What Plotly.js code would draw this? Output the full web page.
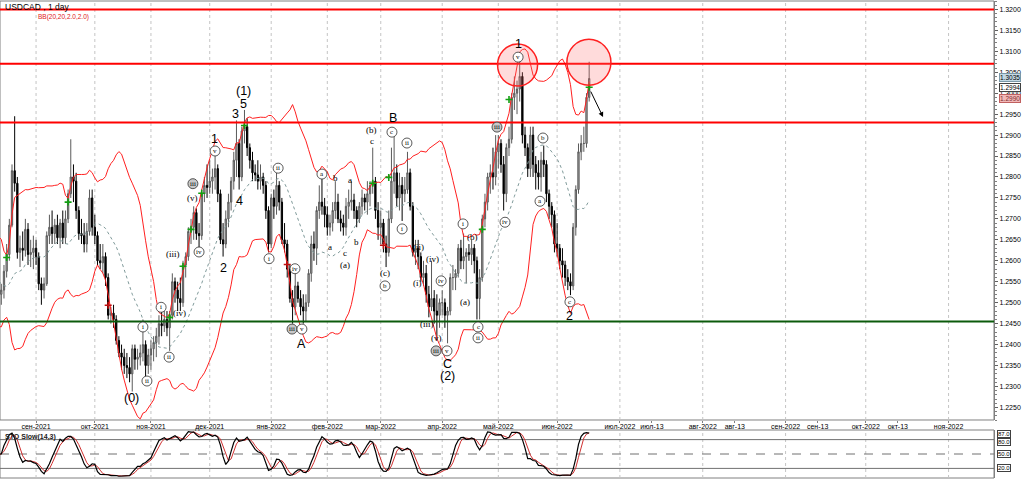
<!DOCTYPE html>
<html><head><meta charset="utf-8">
<script src="https://cdn.plot.ly/plotly-3.0.1.min.js"></script>
<style>html,body{margin:0;padding:0;background:#fff;}#chart{width:1024px;height:479px;}</style>
</head><body><div id="chart"></div>
<script>
// USDCAD daily bars. First 20 bars (16 Jul - 12 Aug 2021) are history before the visible window.
const warmup = 20;
const open = [
1.2590,1.2610,1.2690,1.2650,1.2560,1.2560,1.2560,1.2540,1.2590,1.2530,1.2450,1.2480,1.2530,1.2550,1.2560,1.2530,1.2540,1.2550,1.2530,1.2480,
1.2520,1.2530,1.2575,1.2615,1.2685,1.2815,1.2785,1.2620,1.2630,1.2625,1.2675,1.2615,1.2620,
1.2630,1.2610,1.2545,1.2530,1.2545,1.2660,1.2680,1.2665,1.2685,1.2655,1.2690,1.2655,1.2700,1.2760,1.2800,1.2790,1.2720,1.2665,1.2660,1.2640,1.2670,1.2750,
1.2680,1.2660,1.2600,1.2595,1.2610,1.2560,1.2470,1.2475,1.2460,1.2410,1.2380,1.2370,1.2350,1.2345,1.2330,1.2390,1.2365,1.2370,1.2380,1.2400,1.2350,
1.2375,1.2390,1.2405,1.2420,1.2450,1.2445,1.2460,1.2440,1.2470,1.2550,1.2530,1.2510,1.2500,1.2590,1.2610,1.2670,1.2680,1.2715,1.2665,1.2660,1.2760,1.2780,
1.2775,1.2790,1.2800,1.2820,1.2760,1.2650,1.2640,1.2700,1.2740,1.2790,1.2840,1.2880,1.2800,1.2910,1.2920,1.2870,1.2840,1.2810,1.2805,1.2790,1.2800,1.2780,1.2720,
1.2640,1.2750,1.2730,1.2780,1.2740,1.2650,1.2640,1.2580,1.2510,1.2490,1.2540,1.2510,1.2490,1.2480,1.2500,1.2570,1.2640,1.2630,1.2720,1.2740,1.2730,
1.2710,1.2680,1.2690,1.2720,1.2740,1.2700,1.2690,1.2680,1.2730,1.2740,1.2745,1.2720,1.2700,1.2730,1.2750,1.2740,1.2760,1.2780,1.2790,1.2720,
1.2680,1.2690,1.2640,1.2620,1.2700,1.2790,1.2810,1.2750,1.2780,1.2760,1.2770,1.2810,1.2730,1.2620,1.2630,1.2610,1.2560,1.2570,1.2520,1.2490,1.2510,1.2480,1.2470,
1.2500,1.2500,1.2470,1.2480,1.2560,1.2560,1.2570,1.2630,1.2600,1.2610,1.2620,1.2615,1.2630,1.2600,1.2510,1.2560,1.2700,1.2740,1.2800,1.2810,1.2800,
1.2860,1.2880,1.2830,1.2760,1.2870,1.2890,1.2990,1.3000,1.3010,1.3040,1.2900,1.2870,1.2820,1.2900,1.2830,1.2810,1.2800,1.2840,1.2830,1.2760,1.2730,1.2710,
1.2640,1.2630,1.2600,1.2590,1.2560,1.2550,1.2540,1.2680,1.2770,1.2860,1.2880,1.2880,1.2990
];
const high = [
1.2630,1.2700,1.2800,1.2660,1.2590,1.2600,1.2570,1.2600,1.2600,1.2540,1.2490,1.2540,1.2570,1.2590,1.2570,1.2560,1.2580,1.2560,1.2540,1.2530,
1.2545,1.2590,1.2640,1.2700,1.2830,1.2945,1.2800,1.2660,1.2670,1.2700,1.2690,1.2650,1.2660,
1.2650,1.2620,1.2560,1.2560,1.2670,1.2710,1.2720,1.2700,1.2710,1.2700,1.2720,1.2720,1.2770,1.2890,1.2830,1.2810,1.2730,1.2700,1.2690,1.2690,1.2770,1.2770,
1.2710,1.2670,1.2640,1.2640,1.2620,1.2570,1.2490,1.2495,1.2470,1.2420,1.2400,1.2390,1.2380,1.2370,1.2400,1.2400,1.2390,1.2400,1.2460,1.2410,1.2390,
1.2410,1.2420,1.2440,1.2470,1.2490,1.2480,1.2480,1.2480,1.2570,1.2560,1.2550,1.2560,1.2600,1.2620,1.2680,1.2700,1.2730,1.2725,1.2690,1.2770,1.2800,1.2830,
1.2840,1.2820,1.2850,1.2830,1.2770,1.2690,1.2720,1.2760,1.2800,1.2860,1.2935,1.2890,1.2920,1.2960,1.2940,1.2880,1.2860,1.2830,1.2840,1.2830,1.2810,1.2790,1.2730,
1.2760,1.2770,1.2810,1.2790,1.2750,1.2690,1.2650,1.2590,1.2530,1.2570,1.2550,1.2530,1.2520,1.2520,1.2580,1.2660,1.2670,1.2730,1.2780,1.2795,1.2750,
1.2730,1.2710,1.2740,1.2790,1.2760,1.2720,1.2710,1.2750,1.2770,1.2790,1.2760,1.2730,1.2740,1.2770,1.2760,1.2790,1.2790,1.2870,1.2800,1.2740,
1.2720,1.2700,1.2660,1.2720,1.2870,1.2900,1.2830,1.2810,1.2800,1.2800,1.2860,1.2820,1.2740,1.2650,1.2650,1.2620,1.2600,1.2590,1.2540,1.2600,1.2530,1.2520,1.2510,
1.2530,1.2510,1.2490,1.2570,1.2590,1.2580,1.2640,1.2650,1.2665,1.2630,1.2640,1.2650,1.2640,1.2610,1.2580,1.2710,1.2760,1.2810,1.2830,1.2870,1.2900,
1.2900,1.2890,1.2850,1.2880,1.2920,1.3000,1.3040,1.3030,1.3076,1.3050,1.2920,1.2880,1.2920,1.2920,1.2850,1.2840,1.2860,1.2875,1.2840,1.2770,1.2740,1.2720,
1.2690,1.2640,1.2630,1.2600,1.2580,1.2570,1.2690,1.2780,1.2880,1.2900,1.2920,1.3000,1.3075
];
const low = [
1.2570,1.2600,1.2640,1.2550,1.2540,1.2540,1.2520,1.2520,1.2510,1.2420,1.2430,1.2470,1.2510,1.2530,1.2500,1.2510,1.2520,1.2500,1.2470,1.2470,
1.2495,1.2510,1.2560,1.2600,1.2680,1.2765,1.2605,1.2585,1.2600,1.2610,1.2590,1.2585,1.2580,
1.2590,1.2530,1.2495,1.2510,1.2540,1.2640,1.2640,1.2640,1.2640,1.2630,1.2640,1.2640,1.2690,1.2750,1.2740,1.2700,1.2650,1.2640,1.2620,1.2620,1.2660,1.2660,
1.2640,1.2590,1.2580,1.2570,1.2540,1.2460,1.2450,1.2440,1.2400,1.2370,1.2340,1.2330,1.2320,1.2310,1.2288,1.2340,1.2340,1.2350,1.2360,1.2320,1.2330,
1.2340,1.2360,1.2370,1.2400,1.2420,1.2430,1.2420,1.2385,1.2460,1.2500,1.2480,1.2480,1.2490,1.2560,1.2600,1.2640,1.2650,1.2650,1.2630,1.2650,1.2740,1.2750,
1.2760,1.2760,1.2770,1.2740,1.2640,1.2610,1.2630,1.2680,1.2720,1.2770,1.2800,1.2770,1.2790,1.2880,1.2850,1.2820,1.2790,1.2790,1.2770,1.2770,1.2760,1.2700,1.2620,
1.2630,1.2700,1.2710,1.2720,1.2640,1.2620,1.2560,1.2500,1.2450,1.2470,1.2500,1.2470,1.2450,1.2455,1.2490,1.2550,1.2600,1.2590,1.2700,1.2710,1.2680,
1.2660,1.2660,1.2670,1.2700,1.2690,1.2670,1.2660,1.2660,1.2700,1.2720,1.2700,1.2680,1.2690,1.2710,1.2720,1.2710,1.2730,1.2760,1.2700,1.2650,
1.2640,1.2620,1.2585,1.2610,1.2690,1.2760,1.2730,1.2720,1.2695,1.2740,1.2760,1.2720,1.2610,1.2590,1.2580,1.2550,1.2540,1.2500,1.2465,1.2480,1.2450,1.2410,1.2440,
1.2470,1.2440,1.2403,1.2470,1.2530,1.2530,1.2560,1.2580,1.2580,1.2546,1.2600,1.2590,1.2570,1.2460,1.2460,1.2550,1.2680,1.2720,1.2760,1.2770,1.2780,
1.2820,1.2810,1.2720,1.2740,1.2850,1.2880,1.2960,1.2950,1.2980,1.2880,1.2850,1.2800,1.2800,1.2800,1.2770,1.2770,1.2765,1.2800,1.2740,1.2700,1.2680,1.2620,
1.2610,1.2580,1.2560,1.2540,1.2530,1.2518,1.2530,1.2660,1.2760,1.2840,1.2860,1.2870,1.2980
];
const close = [
1.2610,1.2690,1.2650,1.2560,1.2560,1.2560,1.2540,1.2590,1.2530,1.2450,1.2480,1.2530,1.2550,1.2560,1.2530,1.2540,1.2550,1.2530,1.2480,1.2520,
1.2530,1.2575,1.2615,1.2685,1.2815,1.2785,1.2620,1.2630,1.2625,1.2675,1.2615,1.2620,1.2630,
1.2610,1.2545,1.2530,1.2545,1.2660,1.2680,1.2665,1.2685,1.2655,1.2690,1.2655,1.2700,1.2760,1.2800,1.2790,1.2720,1.2665,1.2660,1.2640,1.2670,1.2750,1.2680,
1.2660,1.2600,1.2595,1.2610,1.2560,1.2470,1.2475,1.2460,1.2410,1.2380,1.2370,1.2350,1.2345,1.2330,1.2390,1.2365,1.2370,1.2380,1.2400,1.2350,1.2375,
1.2390,1.2405,1.2420,1.2450,1.2445,1.2460,1.2440,1.2470,1.2550,1.2530,1.2510,1.2500,1.2590,1.2610,1.2670,1.2680,1.2715,1.2665,1.2660,1.2760,1.2780,1.2775,
1.2790,1.2800,1.2820,1.2760,1.2650,1.2640,1.2700,1.2740,1.2790,1.2840,1.2880,1.2800,1.2910,1.2920,1.2870,1.2840,1.2810,1.2805,1.2790,1.2800,1.2780,1.2720,1.2640,
1.2750,1.2730,1.2780,1.2740,1.2650,1.2640,1.2580,1.2510,1.2490,1.2540,1.2510,1.2490,1.2480,1.2500,1.2570,1.2640,1.2630,1.2720,1.2740,1.2730,1.2710,
1.2680,1.2690,1.2720,1.2740,1.2700,1.2690,1.2680,1.2730,1.2740,1.2745,1.2720,1.2700,1.2730,1.2750,1.2740,1.2760,1.2780,1.2790,1.2720,1.2680,
1.2690,1.2640,1.2620,1.2700,1.2790,1.2810,1.2750,1.2780,1.2760,1.2770,1.2810,1.2730,1.2620,1.2630,1.2610,1.2560,1.2570,1.2520,1.2490,1.2510,1.2480,1.2470,1.2500,
1.2500,1.2470,1.2480,1.2560,1.2560,1.2570,1.2630,1.2600,1.2610,1.2620,1.2615,1.2630,1.2600,1.2510,1.2560,1.2700,1.2740,1.2800,1.2810,1.2800,1.2860,
1.2880,1.2830,1.2760,1.2870,1.2890,1.2990,1.3000,1.3010,1.3040,1.2900,1.2870,1.2820,1.2900,1.2830,1.2810,1.2800,1.2840,1.2830,1.2760,1.2730,1.2710,1.2640,
1.2630,1.2600,1.2590,1.2560,1.2550,1.2540,1.2680,1.2770,1.2860,1.2880,1.2880,1.2990,1.3035
];

// Axis ticks (bar-index positions of month starts; future part is calendar spaced)
const tickIdx  = [13,35,56,78,101,122,142,165,186,208,231.5,243.5,262.5,274.5,293.5,305.5,323.5,335.5,354.5];
const tickText = ['сен-2021','окт-2021','ноя-2021','дек-2021','янв-2022','фев-2022','мар-2022','апр-2022','май-2022','июн-2022','июл-2022','июл-13','авг-2022','авг-13','сен-2022','сен-13','окт-2022','окт-13','ноя-2022'];
const gridIdx  = [13,35,56,78,101,122,142,165,186,208,231.5,262.5,293.5,323.5,354.5];

// Horizontal levels
const resistanceLevels = [1.3200, 1.3070, 1.2930];
const supportLevels = [1.2455];

// Signal crosses (bar index, price)
const upSignalIdx   = [2,25,63,68,71,75,91,139,145,180,190,220];
const upSignalPrice = [1.2608,1.2740,1.2465,1.2587,1.2675,1.2761,1.2923,1.2785,1.2799,1.2675,1.2985,1.3014];
const dnSignalIdx   = [40,107,143];
const dnSignalPrice = [1.2494,1.2591,1.2637];

// ---- derived indicators ----
const xIdx = close.map((_, i) => i - warmup);
const N = close.length;
const bbU = [], bbM = [], bbL = [];
for (let i = 0; i < N; i++) {
  if (i < 19) { bbU.push(null); bbM.push(null); bbL.push(null); continue; }
  const w = close.slice(i - 19, i + 1);
  const m = w.reduce((a, b) => a + b, 0) / 20;
  const sd = Math.sqrt(w.reduce((a, b) => a + (b - m) * (b - m), 0) / 20);
  bbM.push(m); bbU.push(m + 2 * sd); bbL.push(m - 2 * sd);
}
const hh = [], ll = [];
for (let i = 0; i < N; i++) {
  if (i < 13) { hh.push(null); ll.push(null); continue; }
  hh.push(Math.max(...high.slice(i - 13, i + 1)));
  ll.push(Math.min(...low.slice(i - 13, i + 1)));
}
const stoK = [], stoD = [];
for (let i = 0; i < N; i++) {
  if (i < 15) { stoK.push(null); continue; }
  let num = 0, den = 0;
  for (let j = i - 2; j <= i; j++) { num += close[j] - ll[j]; den += hh[j] - ll[j]; }
  stoK.push(den > 0 ? 100 * num / den : 50);
}
for (let i = 0; i < N; i++) {
  if (i < 17) { stoD.push(null); continue; }
  stoD.push((stoK[i] + stoK[i - 1] + stoK[i - 2]) / 3);
}

const XR = [-0.49, 371.5];
const mainDom = [0.1216, 1];
const stoDom = [0, 0.1006];

const traces = [
  {type:'scatter', mode:'lines', x:xIdx, y:bbU, xaxis:'x', yaxis:'y', line:{color:'#ff2020', width:1}, hoverinfo:'skip'},
  {type:'scatter', mode:'lines', x:xIdx, y:bbL, xaxis:'x', yaxis:'y', line:{color:'#ff2020', width:1}, hoverinfo:'skip'},
  {type:'scatter', mode:'lines', x:xIdx, y:bbM, xaxis:'x', yaxis:'y', line:{color:'#7f9a9a', width:1, dash:'dot'}, hoverinfo:'skip'},
  {type:'candlestick', x:xIdx, open:open, high:high, low:low, close:close, xaxis:'x', yaxis:'y',
   increasing:{line:{color:'#5a5a5a', width:1}, fillcolor:'#aaaaaa'},
   decreasing:{line:{color:'#000000', width:1}, fillcolor:'#000000'}, whiskerwidth:0},
  {type:'scatter', mode:'markers', x:upSignalIdx, y:upSignalPrice, xaxis:'x', yaxis:'y',
   marker:{symbol:'cross-thin', size:5, line:{color:'#12a012', width:1.6}}},
  {type:'scatter', mode:'markers', x:dnSignalIdx, y:dnSignalPrice, xaxis:'x', yaxis:'y',
   marker:{symbol:'cross-thin', size:5, line:{color:'#c01010', width:1.6}}},
  {type:'scatter', mode:'lines', x:xIdx, y:stoD, xaxis:'x2', yaxis:'y2', line:{color:'#d03030', width:1}},
  {type:'scatter', mode:'lines', x:xIdx, y:stoK, xaxis:'x2', yaxis:'y2', line:{color:'#000000', width:1.2}}
];

const shapes = [];
shapes.push({type:'rect', xref:'paper', yref:'paper', x0:0, x1:1, y0:mainDom[0], y1:mainDom[1], line:{color:'#808080', width:1}, layer:'below'});
shapes.push({type:'rect', xref:'paper', yref:'paper', x0:0, x1:1, y0:stoDom[0], y1:stoDom[1], line:{color:'#808080', width:1}, layer:'below'});
gridIdx.forEach(g => {
  shapes.push({type:'line', xref:'x', yref:'paper', x0:g, x1:g, y0:mainDom[0], y1:mainDom[1], line:{color:'#c4c4c4', width:1, dash:'dot'}, layer:'below'});
  shapes.push({type:'line', xref:'x', yref:'paper', x0:g, x1:g, y0:stoDom[0], y1:stoDom[1], line:{color:'#c4c4c4', width:1, dash:'dot'}, layer:'below'});
});
[80, 20].forEach(v => shapes.push({type:'line', xref:'paper', yref:'y2', x0:0, x1:1, y0:v, y1:v, line:{color:'#707070', width:1}, layer:'below'}));
shapes.push({type:'line', xref:'paper', yref:'y2', x0:0, x1:1, y0:50, y1:50, line:{color:'#707070', width:1, dash:'dash'}, layer:'below'});
resistanceLevels.forEach(v => shapes.push({type:'line', xref:'paper', yref:'y', x0:0, x1:1, y0:v, y1:v, line:{color:'#ff0000', width:2}}));
supportLevels.forEach(v => shapes.push({type:'line', xref:'paper', yref:'y', x0:0, x1:1, y0:v, y1:v, line:{color:'#0b5a0b', width:2}}));
shapes.push({type:'circle', xref:'x', yref:'y', xsizemode:'pixel', ysizemode:'pixel', xanchor:193.2, yanchor:1.3067, x0:-20, x1:20, y0:-21, y1:21, fillcolor:'rgba(255,110,110,0.25)', line:{color:'#ff2020', width:1.5}});
shapes.push({type:'circle', xref:'x', yref:'y', xsizemode:'pixel', ysizemode:'pixel', xanchor:219.9, yanchor:1.3074, x0:-22, x1:22, y0:-23, y1:23, fillcolor:'rgba(255,110,110,0.25)', line:{color:'#ff2020', width:1.5}});

// Elliott wave labels: text, bar index, price, kind (p plain, s serif, c circled, g circled grey)
const waveLabels = [
['(0)',48.9,1.2273,'p'],['i',53.0,1.2442,'c'],['ii',54.5,1.2313,'c'],['i',59.8,1.2489,'c'],['ii',62.8,1.2370,'c'],
['(iii)',64.3,1.2617,'s'],['(iv)',66.5,1.2475,'s'],['iii',71.7,1.2784,'g'],['(v)',71.7,1.2750,'s'],['iv',74.0,1.2621,'c'],
['1',79.6,1.2890,'p'],['v',80.0,1.2862,'c'],['2',83.0,1.2582,'p'],['3',87.8,1.2950,'p'],['4',89.0,1.2742,'p'],
['5',90.8,1.2974,'p'],['(1)',90.8,1.3005,'p'],['i',100.2,1.2605,'c'],['ii',103.6,1.2821,'c'],['iii',108.8,1.2437,'g'],
['iv',109.9,1.2581,'c'],['v',112.5,1.2437,'c'],['A',112.5,1.2402,'p'],['a',120.0,1.2807,'c'],['a',123.0,1.2633,'s'],
['b',124.9,1.2797,'s'],['c',128.6,1.2619,'s'],['(a)',128.6,1.2590,'s'],['a',130.5,1.2793,'s'],['b',133.1,1.2645,'s'],
['c',138.7,1.2886,'s'],['(b)',138.7,1.2912,'s'],['(c)',143.6,1.2571,'s'],['b',143.6,1.2540,'c'],['c',146.2,1.2907,'c'],
['B',146.6,1.2941,'p'],['i',150.0,1.2676,'c'],['ii',151.8,1.2881,'c'],['(ii)',156.3,1.2633,'s'],['(i)',155.6,1.2547,'s'],
['(iv)',161.2,1.2605,'s'],['(iii)',159.3,1.2449,'s'],['(v)',162.7,1.2416,'s'],['iii',162.7,1.2385,'g'],['iv',164.6,1.2552,'c'],
['v',166.8,1.2385,'c'],['C',166.8,1.2354,'p'],['(2)',166.8,1.2325,'p'],['i',172.8,1.2688,'c'],['(a)',173.5,1.2502,'s'],
['(b)',176.5,1.2657,'s'],['c',178.4,1.2442,'c'],['ii',178.4,1.2416,'c'],['iii',185.5,1.2919,'g'],['iv',188.5,1.2692,'c'],
['1',193.4,1.3117,'p'],['v',193.4,1.3086,'c'],['a',201.6,1.2742,'c'],['b',202.7,1.2893,'c'],['c',212.8,1.2502,'c'],
['2',212.8,1.2468,'p']
];

const annotations = [];
waveLabels.forEach(([t, xi, yp, k]) => {
  if (k === 'c' || k === 'g') {
    shapes.push({type:'circle', xref:'x', yref:'y', xsizemode:'pixel', ysizemode:'pixel', xanchor:xi, yanchor:yp,
      x0:-5, x1:5, y0:-5, y1:5, fillcolor:(k === 'g' ? '#c8c8c8' : '#ffffff'), line:{color:'#303030', width:0.8}});
    annotations.push({x:xi, y:yp, xref:'x', yref:'y', text:t, showarrow:false, font:{family:'Liberation Serif, serif', size:7, color:'#000'}});
  } else if (k === 's') {
    annotations.push({x:xi, y:yp, xref:'x', yref:'y', text:t, showarrow:false, font:{family:'Liberation Serif, serif', size:9, color:'#000'}});
  } else {
    annotations.push({x:xi, y:yp, xref:'x', yref:'y', text:t, showarrow:false, font:{family:'Liberation Sans, Arial, sans-serif', size:12.5, color:'#000'}});
  }
});
annotations.push({x:225.2, y:1.2943, xref:'x', yref:'y', ax:-13, ay:-27, text:'', showarrow:true, arrowhead:2, arrowsize:1, arrowwidth:1, arrowcolor:'#000'});
annotations.push({xref:'paper', yref:'paper', x:0.003, y:0.9874, xanchor:'left', yanchor:'middle', text:'USDCAD , 1 day', showarrow:false, font:{size:8.5, color:'#000'}});
annotations.push({xref:'paper', yref:'paper', x:0.036, y:0.9675, xanchor:'left', yanchor:'middle', text:'BB(20,20,2.0,2.0)', showarrow:false, font:{size:6.5, color:'#e02020'}});
annotations.push({xref:'paper', yref:'paper', x:0.003, y:0.086, xanchor:'left', yanchor:'middle', text:'<b>STO Slow(14,3)</b>', showarrow:false, font:{size:7, color:'#202020'}});
// right-side price tags
annotations.push({xref:'paper', yref:'y', x:1.0156, y:1.2988, xanchor:'center', yanchor:'middle', text:'1.2990', showarrow:false, bgcolor:'#f2b8b8', bordercolor:'#c06060', borderwidth:1, borderpad:0, font:{size:6.5, color:'#803030'}});
annotations.push({xref:'paper', yref:'y', x:1.0156, y:1.3013, xanchor:'center', yanchor:'middle', text:'1.2994', showarrow:false, bgcolor:'#ffffff', bordercolor:'#404040', borderwidth:1, borderpad:0, font:{size:6.5, color:'#000'}});
annotations.push({xref:'paper', yref:'y', x:1.0156, y:1.3037, xanchor:'center', yanchor:'middle', text:'1.3035', showarrow:false, bgcolor:'#c3d8e3', bordercolor:'#7a98a8', borderwidth:1, borderpad:0, font:{size:6.5, color:'#000'}});
// stochastic tags
[['20.0',20],['50.0',50],['80.0',74],['87.0',91]].forEach(([t, v]) => {
  annotations.push({xref:'paper', yref:'y2', x:1.0105, y:v, xanchor:'center', yanchor:'middle', text:t, showarrow:false, bgcolor:'#ffffff', bordercolor:'#404040', borderwidth:1, borderpad:0, font:{size:6, color:'#000'}});
});

const layout = {
  width:1024, height:479,
  margin:{l:0, r:30, t:1, b:1},
  paper_bgcolor:'#ffffff', plot_bgcolor:'#ffffff',
  showlegend:false,
  font:{family:'Liberation Sans, Arial, sans-serif', size:7, color:'#000'},
  xaxis:{domain:[0,1], range:XR, anchor:'y', tickmode:'array', tickvals:tickIdx, ticktext:tickText,
    ticks:'outside', ticklen:2, tickcolor:'#808080', showgrid:false, zeroline:false, showline:false,
    ticklabelstandoff:-2,
    rangeslider:{visible:false}, tickfont:{size:7, color:'#000'}, fixedrange:true},
  xaxis2:{domain:[0,1], range:XR, anchor:'y2', showticklabels:false, showgrid:false, zeroline:false, showline:false, ticks:''},
  yaxis:{domain:mainDom, range:[1.2220, 1.3220], side:'right', anchor:'x', dtick:0.005, tick0:1.2, tickformat:'.4f',
    ticks:'outside', ticklen:3, tickcolor:'#606060', showline:true, linecolor:'#808080', showgrid:false, zeroline:false,
    tickfont:{size:7, color:'#000'}, minor:{dtick:0.001, ticks:'outside', ticklen:2, tickcolor:'#808080', showgrid:false}},
  yaxis2:{domain:stoDom, range:[0,100], side:'right', anchor:'x2', showticklabels:false, showline:true, linecolor:'#808080',
    showgrid:false, zeroline:false, ticks:''},
  shapes:shapes,
  annotations:annotations
};

Plotly.newPlot('chart', traces, layout, {staticPlot:true, displayModeBar:false});
</script>
</body></html>
